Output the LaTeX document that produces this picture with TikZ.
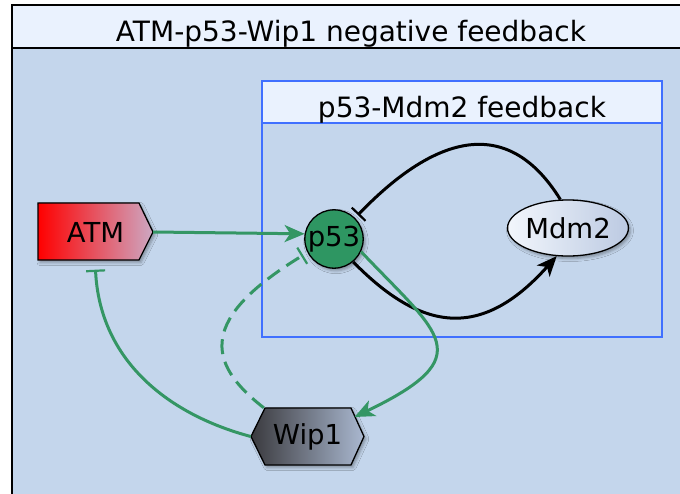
\documentclass[tikz,border=0pt]{standalone}
\usepackage{fontspec}
\setmainfont{DejaVu Sans}
\usetikzlibrary{shapes.geometric,arrows.meta,shadows.blur}

\definecolor{bandc}{RGB}{234,242,254}
\definecolor{bodyc}{RGB}{196,214,236}
\definecolor{innerblue}{RGB}{64,112,255}
\definecolor{nodegreen}{RGB}{46,150,98}
\definecolor{edgegreen}{RGB}{52,150,100}
\definecolor{atmright}{RGB}{205,168,195}
\definecolor{wipleft}{RGB}{58,58,62}
\definecolor{wipright}{RGB}{170,184,208}
\definecolor{mdmleft}{RGB}{242,246,252}
\definecolor{mdmright}{RGB}{188,202,226}

\begin{document}
\begin{tikzpicture}[x=1pt,y=-1pt,
  nodefont/.style={font=\fontsize{27.5}{32}\selectfont},
  titlefont/.style={font=\fontsize{28}{33}\selectfont},
  nodeshadow/.style={blur shadow={shadow xshift=2pt,shadow yshift=-2.5pt,shadow blur radius=3pt,shadow opacity=35}},
  outline/.style={draw=black,line width=1.3pt,nodeshadow},
  species/.style={nodefont,draw=black,line width=1.3pt,inner sep=0pt,nodeshadow},
  label/.style={nodefont,inner sep=0pt},
  greenline/.style={draw=edgegreen,line width=3pt},
  blackline/.style={draw=black,line width=3pt},
  activ/.style={-{Stealth[length=20pt,width=17pt,inset=5.5pt]}},
  inhib/.style={-{Bar[width=19pt,line width=2.2pt]}}
]
\useasboundingbox (0,0) rectangle (680,493);
\fill[white] (0,0) rectangle (680,493);
\begin{scope}
\clip (0,0) rectangle (680,493);
% outer compartment
\fill[bodyc] (12,48) rectangle (720,530);
\fill[bandc] (12,5) rectangle (720,48);
\draw[black,line width=1.8pt] (12,530) -- (12,5) -- (720,5);
\draw[black,line width=1.8pt] (12,48) -- (720,48);
\end{scope}
\node[titlefont,anchor=base] (outertitle) at (351,41) {ATM-p53-Wip1 negative feedback};

% inner compartment
\fill[bandc] (262,81) rectangle (662,123);
\draw[innerblue,line width=2.2pt] (262,81) rectangle (662,337);
\draw[innerblue,line width=2.2pt] (262,123) -- (662,123);
\node[titlefont,anchor=base] (innertitle) at (462,117) {p53-Mdm2 feedback};

% species shapes
\path[outline,left color=red,right color=atmright]
  (38,203) -- (139,203) -- (153,232) -- (139,260) -- (38,260) -- cycle;
\path[outline,left color=wipleft,right color=wipright]
  (251,436.5) -- (265,408) -- (351,408) -- (364,436.5) -- (351,465) -- (265,465) -- cycle;
\node[label,minimum width=115pt,minimum height=57pt] (atm) at (95.5,232) {ATM};
\node[label,minimum width=113pt,minimum height=57pt] (wip1) at (307.5,436.5) {Wip1};
\node[species,ellipse,minimum width=116pt,minimum height=56pt,
      left color=mdmleft,right color=mdmright] (mdm2) at (568,228) {Mdm2};
\node[species,circle,minimum size=58pt,fill=nodegreen] (p53) at (334,239) {p53};

% connectors
\draw[greenline,activ] (atm.east) -- (p53.170);
\draw[blackline,activ] (p53.-50) .. controls (420,330) and (480,342) .. (mdm2.-112);
\draw[blackline,inhib,shorten >=4pt] (mdm2.105) .. controls (505,110) and (430,140) .. (p53.45);
\draw[greenline,activ] (p53.-25) .. controls (440,335) and (481,356) .. ([shift={(47,-19.5)}]wip1.center);
\draw[greenline,inhib,shorten >=5pt,dash pattern=on 15pt off 8pt] ([xshift=13pt]wip1.north west) .. controls (205,362) and (200,318) .. (p53.207);
\draw[greenline,inhib] (wip1.west) .. controls (170,415) and (100,362) .. ([yshift=-9pt]atm.south);
\end{tikzpicture}
\end{document}
